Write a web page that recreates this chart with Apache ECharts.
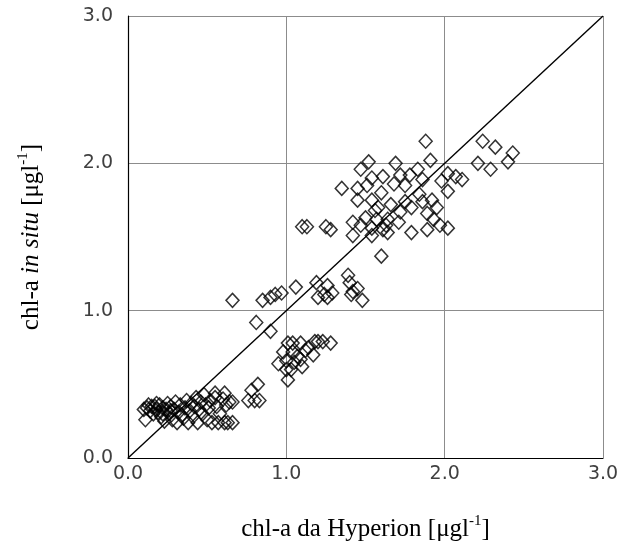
<!DOCTYPE html>
<html><head><meta charset="utf-8">
<script src="https://cdn.jsdelivr.net/npm/echarts@6/dist/echarts.min.js"></script>
<style>html,body{margin:0;padding:0;background:#fff}#c{width:624px;height:556px}</style>
</head><body><div id="c"></div>
<script>
var xTicks = ['0.0','1.0','2.0','3.0'];
var yTicks = ['0.0','1.0','2.0','3.0'];
var hyperionX = [
 0.10,0.11,0.12,0.14,0.15,0.16,0.17,0.18,0.19,0.20,0.21,0.22,0.23,0.24,0.25,0.26,0.27,0.28,0.29,0.30,
 0.31,0.32,0.33,0.35,0.36,0.37,0.38,0.39,0.40,0.41,0.42,0.43,0.44,0.45,0.46,0.47,0.48,0.49,0.50,0.51,
 0.52,0.53,0.55,0.56,0.57,0.58,0.60,0.61,0.62,0.63,0.64,0.66,0.55,0.61,0.66,0.13,0.18,0.22,0.27,0.34,
 0.82,0.78,0.76,0.80,0.83,0.95,1.00,1.01,
 0.66,0.85,0.90,0.93,0.97,1.06,0.81,0.90,
 1.01,1.04,1.09,1.18,1.20,1.23,1.28,0.98,1.04,1.12,1.17,1.05,1.09,1.03,1.07,1.14,1.00,1.10,
 1.20,1.24,1.26,1.26,1.29,1.19,1.39,1.40,1.42,1.45,1.48,1.41,1.60,
 1.13,1.10,1.25,1.42,1.54,1.64,1.28,
 1.88,1.52,1.47,1.69,1.91,1.61,1.54,1.35,1.45,1.51,1.72,1.78,1.83,1.75,1.86,2.02,2.07,2.11,2.02,2.21,
 1.60,1.45,1.54,1.66,1.75,1.86,1.92,1.95,1.56,1.72,1.79,1.89,1.42,1.47,1.57,1.64,1.71,1.93,1.97,1.54,
 1.61,1.79,1.89,2.02,1.50,1.58,1.68,1.84,1.98,1.63,
 2.24,2.32,2.29,2.40,2.43
];
var inSituY = [
 0.33,0.26,0.34,0.32,0.35,0.30,0.35,0.33,0.31,0.36,0.28,0.34,0.25,0.33,0.37,0.30,0.35,0.26,0.33,0.38,
 0.24,0.31,0.36,0.27,0.34,0.39,0.24,0.32,0.37,0.28,0.35,0.41,0.24,0.33,0.38,0.30,0.43,0.36,0.26,0.34,
 0.39,0.24,0.41,0.35,0.24,0.30,0.40,0.24,0.36,0.24,0.38,0.24,0.44,0.44,0.38,0.36,0.37,0.30,0.32,0.29,
 0.50,0.46,0.39,0.39,0.39,0.64,0.60,0.53,
 1.07,1.07,1.09,1.11,1.12,1.16,0.92,0.86,
 0.78,0.78,0.78,0.79,0.79,0.79,0.78,0.72,0.72,0.73,0.70,0.65,0.67,0.60,0.69,0.75,0.66,0.62,
 1.09,1.11,1.17,1.09,1.12,1.19,1.24,1.19,1.13,1.15,1.07,1.11,1.37,
 1.57,1.57,1.57,1.51,1.51,1.53,1.55,
 2.15,2.01,1.96,2.00,2.02,1.91,1.90,1.83,1.83,1.85,1.92,1.92,1.96,1.85,1.89,1.93,1.91,1.89,1.81,2.00,
 1.80,1.75,1.75,1.72,1.74,1.74,1.75,1.70,1.68,1.67,1.70,1.66,1.60,1.58,1.62,1.62,1.60,1.62,1.58,1.56,
 1.55,1.53,1.55,1.56,1.63,1.70,1.86,1.79,1.88,1.58,
 2.15,2.11,1.96,2.01,2.07
];
var oneToOne = [[0,0],[3,3]];

var pts = hyperionX.map(function(x,i){return [x, inSituY[i]];});
var chart = echarts.init(document.getElementById('c'));
chart.setOption({
  animation:false,
  grid:{left:128,right:21,top:16,bottom:98},
  xAxis:{
    type:'value',min:0,max:3,interval:1,
    axisLine:{show:true,lineStyle:{color:'#000',width:1.2}},
    axisTick:{show:false},
    splitLine:{show:true,lineStyle:{color:'#8c8c8c',width:1}},
    axisLabel:{margin:7,fontFamily:'DejaVu Sans',fontSize:19,color:'#404040',
      formatter:function(v){return xTicks[Math.round(v)];}},
    name:'{a|chl-a da Hyperion [μgl}{s|-1}{a|]}',
    nameLocation:'middle',nameGap:56,
    nameTextStyle:{rich:{
      a:{fontFamily:'Liberation Serif',fontSize:25,color:'#000',lineHeight:30},
      s:{fontFamily:'Liberation Serif',fontSize:15,color:'#000',verticalAlign:'top',lineHeight:30,padding:[0,0,12,0]}
    }}
  },
  yAxis:{
    type:'value',min:0,max:3,interval:1,
    axisLine:{show:true,lineStyle:{color:'#000',width:1.2}},
    axisTick:{show:false},
    splitLine:{show:true,lineStyle:{color:'#8c8c8c',width:1}},
    axisLabel:{margin:15,fontFamily:'DejaVu Sans',fontSize:19,color:'#404040',
      formatter:function(v){return yTicks[Math.round(v)];}},
    name:'{a|chl-a }{i|in situ}{a| [μgl}{s|-1}{a|]}',
    nameLocation:'middle',nameGap:82,nameRotate:90,
    nameTextStyle:{rich:{
      a:{fontFamily:'Liberation Serif',fontSize:25,color:'#000',lineHeight:30},
      i:{fontFamily:'Liberation Serif',fontSize:25,fontStyle:'italic',color:'#000',lineHeight:30},
      s:{fontFamily:'Liberation Serif',fontSize:15,color:'#000',verticalAlign:'top',lineHeight:30,padding:[0,0,12,0]}
    }}
  },
  series:[
    {type:'line',data:oneToOne,symbol:'none',lineStyle:{color:'#000',width:1.4},silent:true,z:1},
    {type:'scatter',data:pts,symbol:'diamond',symbolSize:[13,14],
     itemStyle:{color:'rgba(255,255,255,0)',borderColor:'#000',borderWidth:1.5},z:2}
  ]
});
</script></body></html>
